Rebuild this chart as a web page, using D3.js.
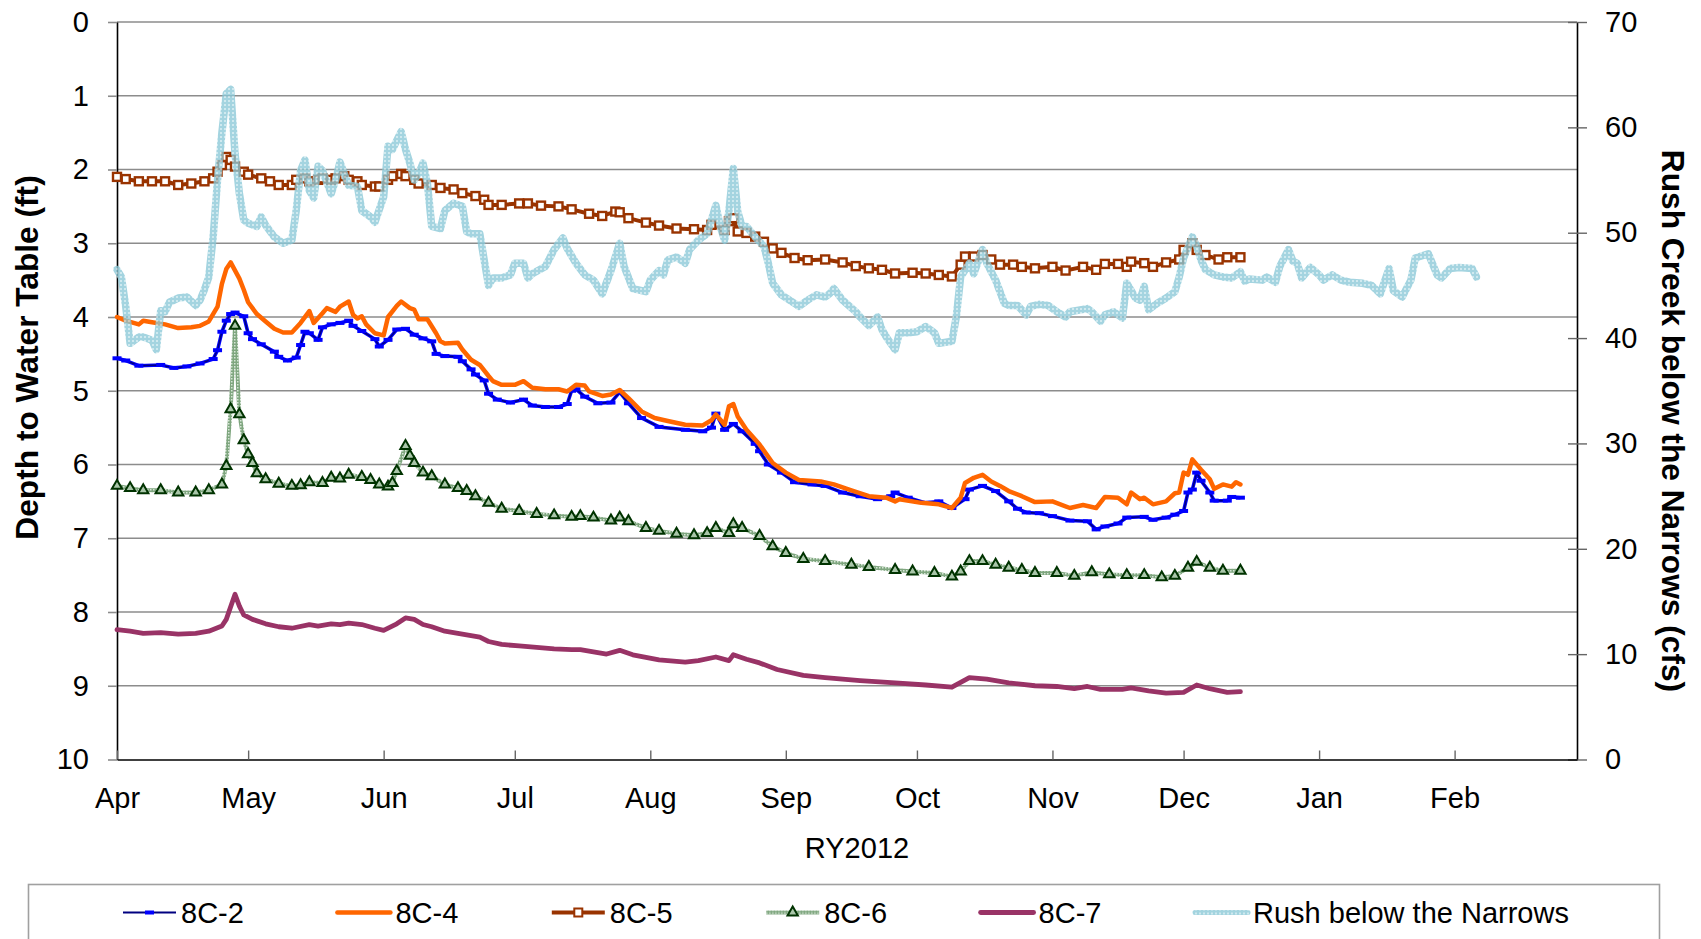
<!DOCTYPE html>
<html>
<head>
<meta charset="utf-8">
<script src="https://cdn.jsdelivr.net/npm/d3@7"></script>
<style>
  body { margin: 0; background: #fff; }
  text { font-family: "Liberation Sans", Arial, sans-serif; }
</style>
</head>
<body>
<script>
const width = 1701;
const height = 939;
const marginTop = 22;
const marginRight = 124;
const marginBottom = 179.5;
const marginLeft = 117;

const startDate = new Date(Date.UTC(2012, 3, 1));
const endDate = new Date(Date.UTC(2013, 2, 1));

// [days since 1 Apr 2012, depth to water table (ft)]
const well8C2 = [[0,4.56],[2,4.59],[5,4.66],[10,4.65],[13,4.69],[16,4.67],[19,4.63],[22,4.57],[23,4.45],[24,4.2],[25,4.05],[26,3.96],[27,3.94],[29,3.99],[30,4.22],[31,4.30],[33,4.37],[36,4.47],[37,4.54],[39,4.59],[41,4.55],[42,4.38],[43,4.2],[44,4.22],[46,4.31],[47,4.14],[49,4.10],[51,4.08],[53,4.05],[54,4.12],[56,4.19],[59,4.30],[60,4.40],[62,4.31],[64,4.17],[66,4.16],[68,4.24],[70,4.29],[72,4.33],[73,4.50],[75,4.53],[78,4.54],[79,4.60],[81,4.71],[82,4.78],[84,4.86],[85,5.04],[87,5.12],[90,5.16],[93,5.12],[95,5.20],[98,5.22],[101,5.22],[103,5.18],[104,5.00],[105,4.98],[107,5.08],[110,5.17],[113,5.16],[115,5.02],[117,5.17],[120,5.37],[124,5.49],[130,5.53],[134,5.55],[136,5.50],[137,5.31],[139,5.53],[141,5.45],[143,5.55],[146,5.72],[147,5.82],[149,6.00],[152,6.11],[155,6.24],[159,6.27],[162,6.29],[166,6.38],[170,6.43],[174,6.47],[177,6.43],[178,6.38],[181,6.45],[185,6.52],[188,6.50],[191,6.59],[194,6.47],[195,6.34],[198,6.29],[201,6.36],[204,6.50],[206,6.60],[208,6.65],[211,6.66],[214,6.70],[218,6.76],[222,6.77],[224,6.88],[226,6.84],[229,6.80],[231,6.72],[235,6.71],[237,6.75],[240,6.72],[242,6.68],[244,6.63],[245,6.38],[246,6.34],[247,6.11],[248,6.22],[250,6.38],[251,6.49],[254,6.49],[255,6.44],[257,6.45]];

const well8C4 = [[0,4.00],[2,4.05],[5,4.10],[6,4.05],[8,4.07],[11,4.10],[14,4.15],[17,4.14],[19,4.12],[21,4.06],[23,3.86],[24,3.55],[25,3.35],[26,3.26],[28,3.48],[29,3.63],[30,3.80],[32,3.96],[34,4.06],[36,4.16],[38,4.21],[40,4.21],[42,4.08],[44,3.92],[45,4.08],[47,3.95],[48,3.88],[50,3.93],[51,3.86],[53,3.79],[54,3.97],[55,4.02],[56,3.99],[57,4.10],[59,4.22],[61,4.25],[62,4.00],[64,3.85],[65,3.79],[67,3.88],[68,3.90],[69,4.03],[71,4.03],[73,4.22],[74,4.33],[75,4.36],[78,4.35],[79,4.44],[81,4.58],[83,4.65],[85,4.80],[86,4.87],[88,4.92],[91,4.92],[93,4.87],[95,4.96],[98,4.98],[101,4.98],[103,5.01],[105,4.92],[107,4.93],[108,5.01],[111,5.07],[113,5.05],[115,4.99],[117,5.10],[120,5.28],[123,5.37],[126,5.41],[130,5.46],[134,5.47],[136,5.40],[137,5.32],[139,5.46],[140,5.21],[141,5.18],[142,5.35],[144,5.53],[147,5.73],[150,5.98],[153,6.11],[156,6.21],[161,6.23],[164,6.27],[168,6.35],[172,6.43],[176,6.45],[178,6.50],[179,6.47],[184,6.52],[188,6.54],[191,6.59],[193,6.45],[194,6.25],[196,6.18],[198,6.14],[200,6.23],[202,6.29],[204,6.36],[207,6.43],[210,6.51],[214,6.50],[218,6.59],[221,6.55],[224,6.59],[226,6.44],[229,6.45],[231,6.54],[232,6.38],[234,6.47],[235,6.45],[237,6.54],[240,6.50],[242,6.39],[243,6.38],[244,6.11],[245,6.14],[246,5.93],[248,6.07],[250,6.20],[251,6.33],[253,6.27],[255,6.30],[256,6.24],[257,6.27]];

const well8C5 = [[0,2.10],[2,2.13],[5,2.16],[8,2.16],[11,2.16],[14,2.21],[17,2.19],[20,2.16],[22,2.12],[23,2.03],[24,1.94],[25,1.83],[26,1.87],[27,1.96],[29,2.03],[30,2.07],[33,2.12],[35,2.16],[37,2.21],[40,2.21],[41,2.14],[43,2.12],[44,2.16],[46,2.14],[47,2.12],[49,2.14],[50,2.12],[52,2.09],[53,2.14],[55,2.16],[56,2.21],[59,2.23],[60,2.23],[62,2.14],[63,2.09],[65,2.06],[66,2.09],[68,2.14],[69,2.19],[72,2.21],[74,2.25],[77,2.27],[79,2.32],[82,2.36],[84,2.41],[85,2.48],[88,2.48],[92,2.46],[94,2.46],[97,2.49],[101,2.50],[104,2.54],[108,2.60],[111,2.63],[114,2.57],[115,2.58],[117,2.66],[121,2.72],[124,2.76],[128,2.80],[132,2.81],[135,2.82],[136,2.75],[139,2.82],[140,2.70],[141,2.66],[142,2.84],[144,2.86],[146,2.91],[148,2.98],[150,3.07],[152,3.13],[155,3.20],[158,3.23],[162,3.22],[166,3.26],[169,3.31],[172,3.34],[175,3.36],[178,3.41],[182,3.40],[185,3.41],[188,3.43],[191,3.45],[193,3.29],[194,3.18],[196,3.18],[198,3.16],[200,3.22],[202,3.29],[205,3.29],[207,3.32],[210,3.34],[214,3.32],[217,3.37],[221,3.32],[224,3.36],[226,3.28],[229,3.28],[231,3.32],[232,3.25],[235,3.27],[237,3.32],[240,3.26],[243,3.22],[244,3.09],[246,3.00],[247,3.09],[249,3.16],[252,3.22],[254,3.19],[257,3.19]];

const well8C6 = [[0,6.29],[3,6.32],[6,6.35],[10,6.35],[14,6.38],[18,6.38],[21,6.35],[24,6.27],[25,6.02],[26,5.25],[27,4.12],[28,5.32],[29,5.67],[30,5.86],[31,5.98],[32,6.12],[34,6.20],[37,6.26],[40,6.29],[42,6.28],[44,6.24],[47,6.25],[49,6.18],[51,6.19],[53,6.14],[56,6.17],[58,6.21],[60,6.27],[62,6.30],[63,6.25],[64,6.09],[66,5.75],[67,5.88],[68,5.98],[70,6.11],[72,6.16],[75,6.27],[78,6.32],[80,6.36],[82,6.43],[85,6.52],[88,6.60],[92,6.63],[96,6.67],[100,6.69],[104,6.71],[106,6.70],[109,6.72],[113,6.76],[115,6.72],[117,6.77],[121,6.86],[124,6.90],[128,6.94],[132,6.96],[135,6.93],[137,6.86],[140,6.93],[141,6.81],[143,6.86],[147,6.97],[150,7.11],[153,7.20],[157,7.28],[162,7.31],[168,7.36],[172,7.39],[178,7.43],[182,7.45],[187,7.47],[191,7.52],[193,7.45],[195,7.31],[198,7.31],[201,7.36],[204,7.40],[207,7.43],[210,7.47],[215,7.47],[219,7.51],[223,7.46],[227,7.49],[231,7.50],[235,7.50],[239,7.53],[242,7.51],[245,7.40],[247,7.32],[250,7.40],[253,7.44],[257,7.44]];

const well8C7 = [[0,8.24],[3,8.26],[6,8.29],[10,8.28],[14,8.30],[18,8.29],[21,8.26],[24,8.19],[25,8.10],[27,7.76],[28,7.92],[29,8.04],[31,8.10],[34,8.16],[37,8.20],[40,8.22],[44,8.17],[46,8.19],[49,8.16],[51,8.17],[53,8.15],[56,8.17],[59,8.22],[61,8.25],[64,8.16],[66,8.08],[68,8.10],[70,8.17],[72,8.20],[75,8.26],[78,8.29],[80,8.31],[83,8.34],[85,8.40],[88,8.44],[92,8.46],[96,8.48],[100,8.50],[104,8.51],[106,8.51],[112,8.57],[115,8.52],[118,8.58],[124,8.65],[130,8.68],[133,8.66],[137,8.61],[140,8.66],[141,8.58],[144,8.64],[147,8.69],[151,8.78],[157,8.86],[162,8.89],[170,8.93],[178,8.96],[185,8.99],[191,9.02],[195,8.89],[199,8.91],[204,8.96],[210,9.00],[215,9.01],[219,9.04],[222,9.01],[225,9.05],[230,9.05],[232,9.03],[236,9.07],[240,9.10],[244,9.09],[247,8.99],[250,9.04],[254,9.09],[257,9.08]];

// [days since 1 Apr 2012, flow (cfs)]
const rushFlow = [[0,46.5],[1,45.8],[2,43],[3,39.5],[5,40.1],[6,40.1],[8,39.8],[9,38.9],[10,42.6],[11,42.5],[12,43.4],[14,43.8],[16,43.9],[18,43.1],[19,43.6],[20,44.6],[21,45.8],[22,49.6],[23,55],[24,59.5],[25,63.2],[26,63.6],[27,57.5],[28,53.7],[29,51.2],[30,50.9],[32,50.6],[33,51.5],[34,50.7],[36,49.6],[38,49.0],[40,49.3],[41,52.1],[42,55.9],[43,56.9],[44,54],[45,53.3],[46,56.3],[47,55.9],[49,53.7],[50,55],[51,56.7],[53,54.5],[55,54.4],[56,52.1],[58,51.5],[59,51.0],[61,53.4],[62,58.2],[63,57.9],[65,59.6],[66,57.9],[67,56.6],[68,55],[69,55.6],[70,56.6],[71,54.7],[72,50.6],[74,50.4],[75,52.1],[77,52.8],[79,52.5],[80,50.1],[81,49.9],[83,49.9],[84,47.4],[85,45],[86,45.7],[88,45.7],[90,46],[91,47.1],[93,47.1],[94,45.7],[95,46.1],[98,46.8],[100,48.4],[102,49.5],[103,48.5],[105,47.1],[107,46.0],[109,45.5],[111,44.2],[113,46.4],[115,49.0],[116,46.8],[118,44.7],[121,44.4],[122,45.5],[124,46.4],[125,46.0],[126,47.4],[128,47.7],[130,47.1],[131,48.4],[133,49.3],[135,49.9],[137,52.6],[138,50.6],[139,49.3],[140,52.1],[141,56.1],[142,52.0],[143,50.6],[144,50.6],[146,49.6],[148,48.7],[149,47.1],[150,45.2],[152,44.1],[155,43.3],[156,43.0],[158,43.6],[160,44.1],[162,43.9],[163,44.2],[164,44.7],[166,43.6],[169,42.5],[170,42.0],[172,41.2],[174,42.0],[175,40.8],[176,40.1],[178,38.9],[179,40.5],[181,40.5],[183,40.6],[185,41.1],[187,40.5],[188,39.5],[191,39.7],[192,42],[193,45.8],[195,47.1],[196,46.1],[198,48.4],[199,47.1],[201,45.5],[203,43.3],[204,43.1],[206,43.1],[208,42.2],[209,43.0],[211,43.2],[213,43.1],[215,42.5],[217,42.0],[218,42.5],[222,42.8],[223,42.5],[225,41.6],[226,42.2],[228,42.5],[230,41.9],[231,45.2],[233,43.8],[234,43.6],[235,44.9],[236,42.7],[238,43.3],[240,43.8],[242,44.4],[243,45.8],[244,47.6],[246,49.6],[247,48.7],[248,47.4],[249,46.5],[251,46.0],[253,45.8],[255,45.7],[257,46.3],[258,45.4],[259,45.6],[262,45.5],[263,45.8],[265,45.3],[266,46.8],[268,48.4],[269,47.3],[270,47.1],[271,45.7],[273,46.7],[275,46.0],[276,45.5],[278,46.0],[280,45.5],[282,45.3],[285,45.2],[287,45.0],[289,44.2],[291,46.6],[292,44.5],[294,43.9],[296,45.5],[297,47.6],[300,48.0],[302,46.0],[303,45.7],[305,46.6],[307,46.7],[310,46.6],[311,45.8]];

const depthTicks = [0, 1, 2, 3, 4, 5, 6, 7, 8, 9, 10];
const flowTicks = [0, 10, 20, 30, 40, 50, 60, 70];
const xTitle = "RY2012";
const yTitleLeft = "Depth to Water Table (ft)";
const yTitleRight = "Rush Creek below the Narrows (cfs)";

const series = [
  { name: "8C-2", data: well8C2, axis: "left", color: "#0000ff", line: "#000080", width: 2, marker: "dash" },
  { name: "8C-4", data: well8C4, axis: "left", color: "#ff6600", line: "#ff6600", width: 4.5 },
  { name: "8C-5", data: well8C5, axis: "left", color: "#993300", line: "#993300", width: 4, marker: "square" },
  { name: "8C-6", data: well8C6, axis: "left", color: "#003300", line: "url(#greenHatch)", width: 4, marker: "triangle" },
  { name: "8C-7", data: well8C7, axis: "left", color: "#993366", line: "#993366", width: 4.8 },
  { name: "Rush below the Narrows", data: rushFlow, axis: "right", color: "#9fd2de", line: "url(#rushHatch)", width: 7.5, opacity: 0.78 }
];

const x = d3.scaleUtc()
    .domain([startDate, endDate])
    .range([marginLeft, width - marginRight]);

const yLeft = d3.scaleLinear()
    .domain([0, 10])
    .range([marginTop, height - marginBottom]);

const yRight = d3.scaleLinear()
    .domain([0, 70])
    .range([height - marginBottom, marginTop]);

const toDate = d => d3.utcDay.offset(startDate, d[0]);

const svg = d3.select("body")
    .append("svg")
    .attr("width", width)
    .attr("height", height);

const defs = svg.append("defs");

const rushPat = defs.append("pattern")
    .attr("id", "rushHatch")
    .attr("width", 4).attr("height", 4)
    .attr("patternUnits", "userSpaceOnUse");
rushPat.append("rect").attr("width", 4).attr("height", 4).attr("fill", "#8ac8d7");
rushPat.append("rect").attr("width", 2).attr("height", 2).attr("fill", "#c2e3eb");

const greenPat = defs.append("pattern")
    .attr("id", "greenHatch")
    .attr("width", 3).attr("height", 3)
    .attr("patternUnits", "userSpaceOnUse");
greenPat.append("rect").attr("width", 3).attr("height", 3).attr("fill", "#7fa67f");
greenPat.append("rect").attr("width", 1.5).attr("height", 1.5).attr("fill", "#d7e6d7");

//gridlines
svg.append("g")
  .selectAll("line")
  .data(depthTicks.slice(0, -1))
  .join("line")
    .attr("x1", marginLeft)
    .attr("x2", width - marginRight)
    .attr("y1", d => yLeft(d))
    .attr("y2", d => yLeft(d))
    .attr("stroke", "#8c8c8c")
    .attr("stroke-width", 1.6);

//left axis
const leftAxis = svg.append("g")
    .attr("transform", `translate(${marginLeft},0)`)
    .call(d3.axisLeft(yLeft).tickValues(depthTicks).tickSize(9).tickSizeOuter(0).tickPadding(19));

//right axis
const rightAxis = svg.append("g")
    .attr("transform", `translate(${width - marginRight},0)`)
    .call(d3.axisRight(yRight).tickValues(flowTicks).tickSize(10).tickSizeOuter(0).tickPadding(18));

rightAxis.selectAll(".tick")
  .append("line")
    .attr("x1", -9)
    .attr("x2", 0);

//bottom axis
const bottomAxis = svg.append("g")
    .attr("transform", `translate(0,${height - marginBottom})`)
    .call(d3.axisBottom(x)
      .tickValues(d3.utcMonth.range(startDate, endDate))
      .tickFormat(d3.utcFormat("%b"))
      .tickSize(-9)
      .tickSizeOuter(0)
      .tickPadding(28));

[leftAxis, rightAxis, bottomAxis].forEach(g => {
  g.attr("font-size", 29)
   .attr("font-family", "Liberation Sans, Arial, sans-serif");
  g.select(".domain").attr("stroke", "#000").attr("stroke-width", 1.6);
  g.selectAll(".tick text").attr("fill", "#000");
});
leftAxis.selectAll(".tick line").attr("stroke", "#8c8c8c").attr("stroke-width", 1.6);
rightAxis.selectAll(".tick line").attr("stroke", "#666").attr("stroke-width", 1.4);
bottomAxis.selectAll(".tick line").attr("stroke", "#666").attr("stroke-width", 1.4);

//series
const lineFor = s => d3.line()
    .x(d => x(toDate(d)))
    .y(d => (s.axis === "left" ? yLeft : yRight)(d[1]));

const plot = svg.append("g");

series.forEach(s => {
  const g = plot.append("g").attr("opacity", s.opacity || 1);

  if (s.marker === "dash") {
    g.append("path")
      .attr("d", lineFor(s)(s.data))
      .attr("fill", "none")
      .attr("stroke", s.color)
      .attr("stroke-width", 3.5)
      .attr("stroke-linejoin", "round");
  }

  g.append("path")
    .attr("d", lineFor(s)(s.data))
    .attr("fill", "none")
    .attr("stroke", s.line)
    .attr("stroke-width", s.marker === "dash" ? 1.5 : s.width)
    .attr("stroke-linejoin", "round")
    .attr("stroke-linecap", "round");

  const px = d => x(toDate(d));
  const py = d => yLeft(d[1]);

  if (s.marker === "dash") {
    g.selectAll("rect")
      .data(s.data)
      .join("rect")
        .attr("x", d => px(d) - 4.5)
        .attr("y", d => py(d) - 2)
        .attr("width", 9)
        .attr("height", 4)
        .attr("fill", s.color);
  }
  if (s.marker === "square") {
    g.selectAll("rect")
      .data(s.data)
      .join("rect")
        .attr("x", d => px(d) - 4)
        .attr("y", d => py(d) - 4)
        .attr("width", 8)
        .attr("height", 8)
        .attr("fill", "#fff")
        .attr("stroke", s.color)
        .attr("stroke-width", 2.4);
  }
  if (s.marker === "triangle") {
    g.selectAll(".tri")
      .data(s.data)
      .join("path")
        .attr("class", "tri")
        .attr("transform", d => `translate(${px(d)},${py(d)})`)
        .attr("d", d3.symbol(d3.symbolTriangle, 46)())
        .attr("fill", "#a9c6a9")
        .attr("stroke", s.color)
        .attr("stroke-width", 2);
  }
});

//axis titles
svg.append("text")
    .attr("transform", `translate(38,${(173 + 542) / 2}) rotate(-90)`)
    .attr("text-anchor", "middle")
    .attr("font-size", 31.7)
    .attr("font-weight", "bold")
    .text(yTitleLeft);

svg.append("text")
    .attr("transform", `translate(1662,421) rotate(90)`)
    .attr("text-anchor", "middle")
    .attr("font-size", 31.7)
    .attr("font-weight", "bold")
    .text(yTitleRight);

svg.append("text")
    .attr("x", 857)
    .attr("y", 858)
    .attr("text-anchor", "middle")
    .attr("font-size", 29)
    .text(xTitle);

//legend
const legend = svg.append("g");

legend.append("rect")
    .attr("x", 28.5)
    .attr("y", 884.5)
    .attr("width", 1631)
    .attr("height", 100)
    .attr("fill", "#fff")
    .attr("stroke", "#a0a0a0")
    .attr("stroke-width", 1.6);

const item = legend.selectAll(".item")
  .data(series)
  .join("g")
    .attr("class", "item")
    .attr("transform", (d, i) => `translate(${123 + i * 214.4},912.5)`);

item.each(function(s) {
  const g = d3.select(this).append("g").attr("opacity", s.opacity || 1);
  g.append("line")
    .attr("x1", 0).attr("x2", 53)
    .attr("stroke", s.line)
    .attr("stroke-width", s.marker === "dash" ? 2 : Math.min(s.width, 5))
    .attr("stroke-linecap", s.axis === "right" || s.width > 4 ? "round" : "butt");
  if (s.marker === "dash") {
    g.append("rect").attr("x", 22).attr("y", -2).attr("width", 9).attr("height", 4).attr("fill", s.color);
  }
  if (s.marker === "square") {
    g.append("rect").attr("x", 22.5).attr("y", -4).attr("width", 8).attr("height", 8)
      .attr("fill", "#fff").attr("stroke", s.color).attr("stroke-width", 2);
  }
  if (s.marker === "triangle") {
    g.append("path").attr("transform", "translate(26.5,0)")
      .attr("d", d3.symbol(d3.symbolTriangle, 46)())
      .attr("fill", "#a9c6a9").attr("stroke", s.color).attr("stroke-width", 2);
  }
});

item.append("text")
    .attr("x", 58)
    .attr("y", 10.5)
    .attr("font-size", 29)
    .text(d => d.name);
</script>
</body>
</html>
